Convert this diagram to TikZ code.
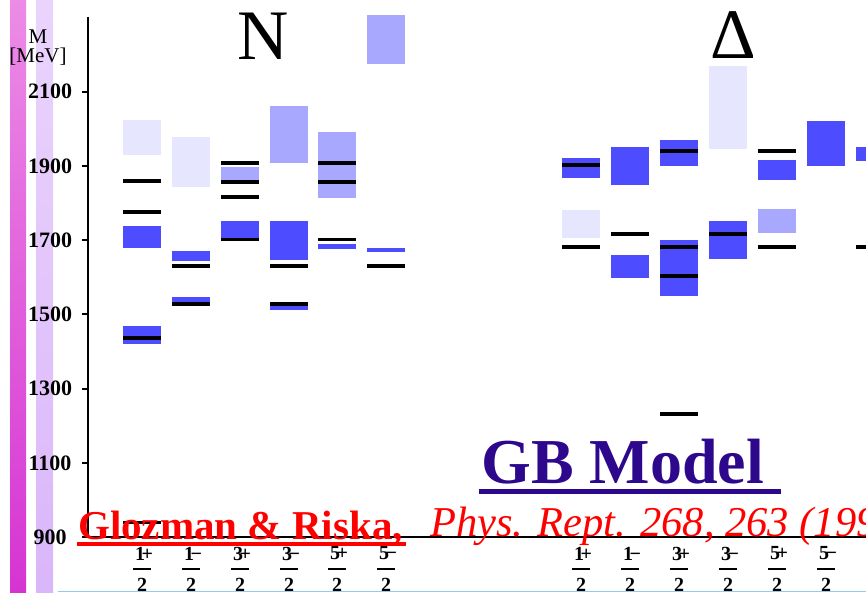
\documentclass[tikz,border=0pt]{standalone}
\usepackage{fontspec}
\setmainfont{Liberation Serif}
\usepackage{tikz}

\definecolor{fullband}{RGB}{77,77,255}
\definecolor{halfband}{RGB}{168,168,255}
\definecolor{faintband}{RGB}{230,230,255}
\definecolor{gbblue}{RGB}{46,8,140}
\definecolor{skyline}{RGB}{140,205,240}

\tikzset{
    lvl/.style={line width=3.6pt, black},
    axisline/.style={line width=2pt, black},
    txt/.style={inner sep=0pt}
}

\newcommand{\levband}[4]{\fill[#1] (#2,#3) rectangle ({#2+38},#4);}
\newcommand{\levline}[2]{\draw[lvl] (#1,#2) -- ({#1+38},#2);}

\begin{document}
\begin{tikzpicture}[x=1pt, y=1pt]
\useasboundingbox (0,0) rectangle (866,592);
\clip (0,0) rectangle (866,592);

\shade[top color={rgb,255:red,236;green,140;blue,230}, bottom color={rgb,255:red,214;green,52;blue,210}]
    (10,0) rectangle (26,592);
\shade[top color={rgb,255:red,234;green,212;blue,252}, bottom color={rgb,255:red,218;green,182;blue,250}]
    (36,0) rectangle (53,592);
\draw[skyline, line width=1pt] (58,1) -- (866,1);

\begin{scope}[y=0.371pt, yshift=-278.9pt]

% N
\levband{faintband}{123}{1930}{2024}
\levband{fullband}{123}{1679}{1738}
\levband{fullband}{123}{1420}{1469}
\levband{fullband}{123}{935}{943}
\levline{123}{1860}
\levline{123}{1776}
\levline{123}{1436}
\levline{123}{939}

\levband{faintband}{172}{1843}{1978}
\levband{fullband}{172}{1644}{1671}
\levband{fullband}{172}{1528}{1547}
\levline{172}{1630}
\levline{172}{1528}

\levband{halfband}{221}{1862}{1897}
\levband{fullband}{221}{1700}{1752}
\levline{221}{1908}
\levline{221}{1857}
\levline{221}{1816}
\levline{221}{1702}

\levband{halfband}{270}{1908}{2062}
\levband{fullband}{270}{1647}{1752}
\levband{fullband}{270}{1513}{1522}
\levline{270}{1630}
\levline{270}{1528}

\levband{halfband}{318}{1814}{1992}
\levband{fullband}{318}{1676}{1690}
\levline{318}{1908}
\levline{318}{1857}
\levline{318}{1702}

\levband{halfband}{367}{2175}{2307}
\levband{fullband}{367}{1668}{1679}
\levline{367}{1630}

% Delta
\levband{fullband}{562}{1868}{1922}
\levband{faintband}{562}{1706}{1781}
\levline{562}{1903}
\levline{562}{1682}

\levband{fullband}{611}{1849}{1951}
\levband{fullband}{611}{1598}{1660}
\levline{611}{1717}

\levband{fullband}{660}{1900}{1970}
\levband{fullband}{660}{1550}{1700}
\levline{660}{1940}
\levline{660}{1682}
\levline{660}{1603}
\levline{660}{1232}

\levband{faintband}{709}{1946}{2170}
\levband{fullband}{709}{1649}{1752}
\levline{709}{1717}

\levband{fullband}{758}{1862}{1916}
\levband{halfband}{758}{1719}{1784}
\levline{758}{1940}
\levline{758}{1682}

\levband{fullband}{807}{1900}{2021}

\levband{fullband}{856}{1914}{1951}
\levline{856}{1682}

% axes
\draw[axisline] (88,2302) -- (88,900) -- (866,900);
\foreach \m in {900,1100,...,2100}
{
    \draw[axisline] (82,\m) -- (88,\m);
    \node[txt, font=\bfseries\fontsize{22}{22}\selectfont] (t\m) at (50,\m) {\m};
}
\end{scope}

\node[txt, font=\fontsize{21}{21}\selectfont] (M) at (38,555) {M};
\node[txt, font=\fontsize{21}{21}\selectfont] (MeV) at (38,535.5) {[MeV]};

\node[txt, font=\fontsize{71}{71}\selectfont] (N) at (263.5,555.5) {N};
\node[txt, font=\fontsize{71}{71}\selectfont] (D) at (733,556.5) {Δ};

\foreach \x/\j/\p [count=\k] in {142/1/+,191/1/−,240/3/+,289/3/−,337/5/+,386/5/−,
    581/1/+,630/1/−,679/3/+,728/3/−,777/5/+,826/5/−,875/7/+}
{
    \node[txt, font=\bfseries\fontsize{20}{20}\selectfont] (num\k) at (\x+2,38.5) {\j\kern-3.5pt\p};
    \draw[line width=1.8pt] (\x-9,23) -- (\x+9,23);
    \node[txt, font=\bfseries\fontsize{20}{20}\selectfont] (den\k) at (\x,7) {2};
}

\node[txt, anchor=base west, text=gbblue, font=\bfseries\fontsize{64}{64}\selectfont] (gb)
    at (481,109) {GB Model};
\draw[gbblue, line width=5pt] ([xshift=-2pt, yshift=-8.5pt]gb.base west) -- ++(302,0);

\node[txt, anchor=base west, text=red, font=\bfseries\fontsize{41}{41}\selectfont] (gr)
    at (78,53) {Glozman \& Riska,};
\draw[red, line width=3.5pt] ([xshift=-1pt, yshift=-5pt]gr.base west) -- ++(329,0);
\node[txt, anchor=base west, text=red, font=\itshape\fontsize{42.5}{42.5}\selectfont] (pr)
    at (430,56) {Phys. Rept. 268, 263 (1996)};

\end{tikzpicture}
\end{document}
